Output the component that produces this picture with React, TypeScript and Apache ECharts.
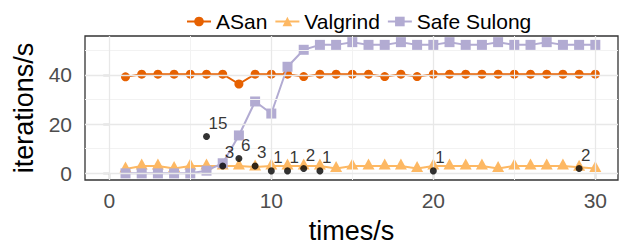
import React, { useEffect, useRef } from "react";
import * as echarts from "echarts";

const times = [1, 2, 3, 4, 5, 6, 7, 8, 9, 10, 11, 12, 13, 14, 15, 16, 17, 18, 19, 20, 21, 22, 23, 24, 25, 26, 27, 28, 29, 30];
const asan = [39.2, 40.3, 40.3, 40.3, 40.3, 40.3, 40.3, 36.3, 40.3, 40.3, 40.3, 39.3, 40.3, 40.3, 40.3, 40.3, 39.3, 40.3, 39.3, 40.3, 40.3, 40.3, 40.3, 40.3, 40.3, 40.3, 40.3, 40.3, 40.3, 40.3];
const valgrind = [1.8, 3.0, 3.0, 2.0, 3.0, 3.0, 3.0, 3.0, 2.6, 3.0, 3.0, 3.0, 3.0, 2.0, 3.0, 3.0, 3.0, 3.0, 2.0, 3.0, 3.0, 3.0, 3.0, 2.0, 3.0, 3.0, 3.0, 3.0, 2.5, 2.0];
const safeSulong = [0, 0, 0, 0, 0, 1.1, 4.1, 15.4, 29.2, 24.3, 43.3, 50.2, 52.2, 52.2, 53.3, 52.2, 52.2, 53.3, 52.2, 52.2, 53.3, 52.2, 52.2, 53.3, 52.2, 52.2, 53.3, 52.2, 52.2, 52.2];
const errorTimes = [6, 7, 8, 9, 10, 11, 12, 13, 20, 29];
const errorCounts = [15, 3, 6, 3, 1, 1, 2, 1, 1, 2];
const xTicks = [0, 10, 20, 30];
const xMinor = [5, 15, 25];
const yTicks = [0, 20, 40];
const yMinor = [10, 30, 50];

const FONT = "Liberation Sans, Arial, Helvetica, sans-serif";
const C_ASAN = "#e66101";
const C_VAL = "#fdb863";
const C_SS = "#b2abd2";

export default function App() {
  const ref = useRef<HTMLDivElement>(null);
  useEffect(() => {
    document.body.style.margin = "0";
    if (!ref.current) return;
    const chart = echarts.init(ref.current, null, { renderer: "svg" });
    const gridLines = [
      ...xMinor.map((v) => ({ xAxis: v, lineStyle: { color: "#f2f2f2", width: 1, type: "solid" } })),
      ...yMinor.map((v) => ({ yAxis: v, lineStyle: { color: "#f2f2f2", width: 1, type: "solid" } })),
      ...xTicks.map((v) => ({ xAxis: v, lineStyle: { color: "#e8e8e8", width: 1.3, type: "solid" } })),
      ...yTicks.map((v) => ({ yAxis: v, lineStyle: { color: "#e8e8e8", width: 1.3, type: "solid" } })),
    ];
    const pair = (arr: number[]) => times.map((t, i) => [t, arr[i]]);
    chart.setOption({
      animation: false,
      textStyle: { fontFamily: FONT },
      legend: {
        data: [
          { name: "ASan" },
          { name: "Valgrind" },
          { name: "Safe Sulong" },
        ],
        top: 6,
        left: 181,
        itemWidth: 24,
        itemHeight: 12,
        itemGap: 7,
        textStyle: { fontSize: 21, color: "#000", fontFamily: FONT },
      },
      grid: {
        left: 85,
        right: 4,
        top: 36,
        bottom: 66,
        show: true,
        borderColor: "#333333",
        borderWidth: 1.3,
        backgroundColor: "transparent",
      },
      xAxis: {
        type: "value",
        min: -1.5,
        max: 31.4,
        name: "times/s",
        nameLocation: "middle",
        nameGap: 37,
        nameTextStyle: { fontSize: 27, color: "#000", fontFamily: FONT },
        splitLine: { show: false },
        axisLine: { show: false },
        axisTick: { show: true, customValues: xTicks, length: 6, lineStyle: { color: "#333", width: 1.2 } },
        axisLabel: { customValues: xTicks, color: "#4d4d4d", fontSize: 21, margin: 10, fontFamily: FONT },
      },
      yAxis: {
        type: "value",
        min: -2.7,
        max: 55.8,
        name: "iterations/s",
        nameLocation: "middle",
        nameGap: 46,
        nameTextStyle: { fontSize: 27, color: "#000", fontFamily: FONT },
        splitLine: { show: false },
        axisLine: { show: false },
        axisTick: { show: true, customValues: yTicks, length: 6, lineStyle: { color: "#333", width: 1.2 } },
        axisLabel: { customValues: yTicks, color: "#4d4d4d", fontSize: 21, margin: 13, fontFamily: FONT },
      },
      series: [
        {
          name: "grid",
          type: "line",
          data: [],
          z: 1,
          silent: true,
          markLine: {
            silent: true,
            symbol: ["none", "none"],
            label: { show: false },
            emphasis: { disabled: true },
            data: gridLines,
          },
        },
        {
          name: "ASan",
          type: "line",
          data: pair(asan),
          z: 2,
          symbol: "circle",
          symbolSize: 9,
          showAllSymbol: true,
          itemStyle: { color: C_ASAN },
          lineStyle: { color: C_ASAN, width: 2 },
        },
        {
          name: "Valgrind",
          type: "line",
          data: pair(valgrind),
          z: 3,
          symbol: "triangle",
          symbolSize: [12, 11],
          symbolOffset: [0, -2],
          showAllSymbol: true,
          itemStyle: { color: C_VAL },
          lineStyle: { color: C_VAL, width: 2 },
        },
        {
          name: "Safe Sulong",
          type: "line",
          data: pair(safeSulong),
          z: 4,
          symbol: "rect",
          symbolSize: 10,
          showAllSymbol: true,
          itemStyle: { color: C_SS },
          lineStyle: { color: C_SS, width: 2 },
        },
        {
          name: "errors",
          type: "scatter",
          data: errorTimes.map((t, i) => [t, errorCounts[i]]),
          z: 5,
          symbol: "circle",
          symbolSize: 7,
          itemStyle: { color: "#000" },
          label: {
            show: true,
            formatter: (p: any) => String(errorCounts[p.dataIndex]),
            position: [5.5, -1],
            align: "left",
            verticalAlign: "bottom",
            fontSize: 17,
            color: "#000",
            fontFamily: FONT,
          },
        },
      ],
    });
    return () => chart.dispose();
  }, []);
  return <div ref={ref} style={{ width: 622, height: 249 }} />;
}
